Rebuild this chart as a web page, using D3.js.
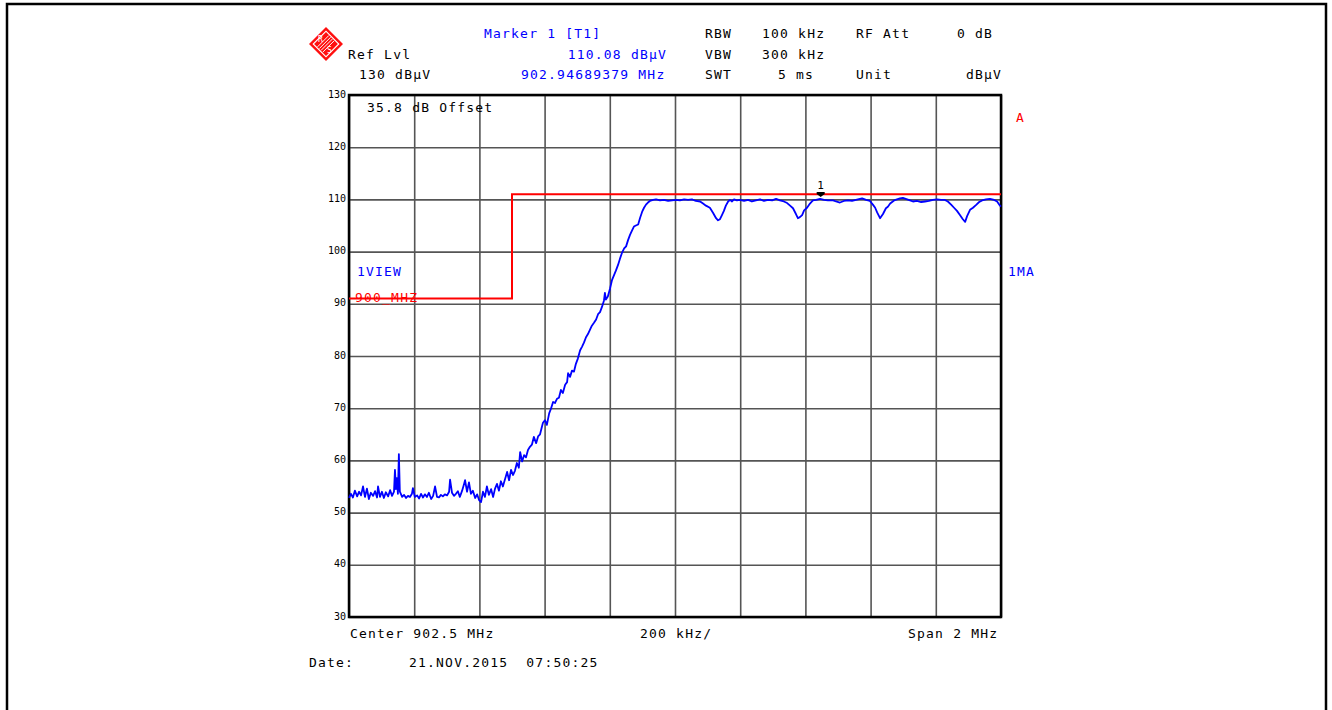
<!DOCTYPE html>
<html>
<head>
<meta charset="utf-8">
<script src="https://cdn.jsdelivr.net/npm/d3@7"></script>
<style>
  html, body { margin: 0; padding: 0; background: #fff; }
  svg { display: block; }
  text { font-family: "DejaVu Sans Mono", monospace; }
</style>
</head>
<body>
<svg id="chart" width="1332" height="710"></svg>
<script>
// ---------- data ----------
const startMHz = 901.5;
const stopMHz = 903.5;
const levelTicks = [30, 40, 50, 60, 70, 80, 90, 100, 110, 120, 130];
const freqGridMHz = [901.5, 901.7, 901.9, 902.1, 902.3, 902.5, 902.7, 902.9, 903.1, 903.3, 903.5];

// trace 1 (clear/write, max) : offset from start frequency in kHz, level in dBµV
const traceOffsetKHz = [
  0, 6, 12, 18, 25, 31, 37, 43, 49, 55, 61, 67, 74, 80, 86, 89, 95, 101, 107, 113,
  120, 126, 132, 138, 141, 144, 147, 150, 153, 156, 163, 169, 175, 181, 187, 193, 196, 202, 209, 215,
  221, 227, 233, 239, 245, 252, 258, 264, 270, 276, 282, 288, 294, 301, 307, 310, 316, 322, 328, 334,
  340, 347, 353, 356, 362, 368, 374, 380, 387, 393, 399, 405, 411, 417, 423, 429, 436, 442, 448, 454,
  460, 466, 472, 479, 485, 491, 497, 503, 509, 515, 521, 525, 531, 537, 543, 549, 555, 561, 567, 574,
  580, 586, 592, 595, 601, 607, 614, 620, 626, 632, 638, 644, 650, 656, 663, 669, 672, 678, 684, 690,
  696, 702, 709, 715, 721, 727, 733, 739, 745, 752, 758, 764, 770, 776, 782, 785, 788, 794, 801, 807,
  813, 819, 825, 831, 837, 844, 850, 856, 862, 868, 874, 880, 887, 893, 899, 905, 911, 917, 923, 933,
  942, 954, 966, 979, 991, 1003, 1015, 1028, 1040, 1052, 1064, 1077, 1086, 1095, 1107, 1117, 1126, 1132, 1138, 1144,
  1150, 1156, 1163, 1169, 1175, 1181, 1190, 1199, 1212, 1224, 1236, 1248, 1261, 1273, 1285, 1298, 1310, 1322, 1334, 1344,
  1353, 1362, 1371, 1377, 1383, 1390, 1396, 1405, 1414, 1423, 1433, 1445, 1457, 1469, 1485, 1494, 1506, 1518, 1531, 1543,
  1555, 1574, 1586, 1598, 1607, 1614, 1620, 1629, 1638, 1647, 1653, 1660, 1672, 1681, 1690, 1699, 1712, 1721, 1730, 1742,
  1755, 1767, 1779, 1791, 1804, 1816, 1828, 1837, 1847, 1856, 1865, 1874, 1883, 1890, 1896, 1905, 1914, 1923, 1933, 1942,
  1954, 1966, 1979, 1988, 1997, 2000
];
const traceLevel = [
  52.8, 53.6, 52.9, 54.2, 53.1, 54.0, 53.3, 55.0, 53.0, 54.6, 52.6, 53.8, 53.2, 54.1, 52.9, 55.0, 53.0, 54.0, 52.8, 53.9,
  53.1, 54.3, 53.2, 54.0, 58.2, 54.5, 56.6, 53.6, 61.2, 54.0, 53.0, 53.4, 52.8, 53.2, 53.0, 53.6, 54.7, 53.0, 53.3, 52.7,
  53.6, 52.9, 53.5, 53.0, 53.8, 52.6, 53.2, 55.0, 53.0, 52.9, 53.4, 53.1, 53.5, 53.3, 54.0, 56.3, 53.8, 53.2, 53.6, 54.1,
  53.0, 54.2, 55.5, 56.2, 54.0, 55.8, 53.6, 54.2, 52.8, 53.5, 52.4, 52.0, 54.0, 53.0, 55.0, 53.4, 54.5, 53.0, 54.6, 55.5,
  54.2, 56.0, 55.0, 56.5, 57.8, 56.2, 58.2, 57.2, 58.0, 59.5, 58.6, 61.6, 59.8, 61.0, 60.6, 62.0, 62.6, 63.0, 64.5, 63.3,
  64.6, 65.0, 66.5, 67.2, 67.7, 66.8, 69.0, 70.0, 71.2, 71.0, 71.8, 72.0, 73.5, 72.9, 74.5, 75.0, 76.7, 76.0, 77.2, 77.0,
  78.5, 79.5, 81.1, 81.8, 82.6, 83.6, 84.2, 85.0, 85.8, 86.4, 87.0, 88.0, 88.4, 89.4, 90.6, 92.1, 90.8, 91.4, 93.0, 94.6,
  95.5, 96.4, 97.4, 98.6, 99.7, 100.6, 101.0, 102.2, 103.2, 104.0, 104.8, 105.0, 105.2, 106.5, 107.6, 108.4, 109.0, 109.4, 109.7, 109.9,
  110.0, 109.8, 109.9, 109.7, 109.8, 109.9, 109.8, 110.0, 109.9, 110.0, 109.7, 109.6, 109.2, 108.8, 108.4, 107.4, 106.4, 106.0, 106.2, 107.0,
  107.8, 108.8, 109.6, 109.9, 109.6, 110.0, 109.8, 109.9, 109.7, 109.9, 109.6, 109.8, 110.0, 109.7, 109.9, 109.8, 110.1, 109.8, 109.6, 109.3,
  108.8, 108.3, 107.2, 106.4, 106.6, 107.0, 107.9, 108.4, 109.2, 109.8, 109.9, 110.1, 109.9, 109.8, 109.8, 109.6, 109.4, 109.7, 109.8, 109.7,
  109.9, 110.2, 109.9, 109.7, 109.0, 108.4, 107.5, 106.4, 107.2, 108.3, 108.6, 109.2, 109.8, 110.0, 110.2, 110.3, 110.0, 109.8, 109.6, 109.7,
  109.5, 109.6, 109.7, 109.9, 110.0, 109.9, 109.9, 109.6, 109.0, 108.4, 107.8, 107.0, 106.2, 105.7, 106.8, 108.0, 108.4, 108.9, 109.5, 109.8,
  110.0, 110.1, 109.9, 109.6, 108.8, 108.6
];

// limit line "900_MHZ"
const limitFreqMHz = [901.5, 902.0, 902.0, 903.5];
const limitLevel = [91, 91, 111, 111];

// marker 1
const markerFreqMHz = 902.94689379;
const markerLevel = 110.08;

// ---------- drawing ----------
const svg = d3.select("#chart");
const plot = { left: 349, right: 1001, top: 95, bottom: 617 };

const x = d3.scaleLinear().domain([startMHz, stopMHz]).range([plot.left, plot.right]);
const y = d3.scaleLinear().domain([30, 130]).range([plot.bottom, plot.top]);

// outer frame
svg.append("path")
  .attr("d", "M7,712 L7,4 L1326,4 L1326,712")
  .attr("fill", "none").attr("stroke", "#000").attr("stroke-width", 2.5);

// gridlines (vertical)
svg.append("g")
  .attr("transform", `translate(0,${plot.bottom})`)
  .call(d3.axisBottom(x).tickValues(freqGridMHz).tickSize(-(plot.bottom - plot.top)).tickFormat(""))
  .call(g => g.select(".domain").remove())
  .call(g => g.selectAll("line").attr("stroke", "#555").attr("stroke-width", 1.6));

// gridlines (horizontal) + level labels
const yAxis = svg.append("g")
  .attr("transform", `translate(${plot.left},0)`)
  .call(d3.axisLeft(y).tickValues(levelTicks).tickSize(-(plot.right - plot.left)).tickPadding(3).tickFormat(d3.format("d")))
  .call(g => g.select(".domain").remove())
  .call(g => g.selectAll("line").attr("stroke", "#555").attr("stroke-width", 1.6));
yAxis.selectAll("text")
  .attr("dy", null).attr("y", 2)
  .style("font-family", "'DejaVu Sans Mono', monospace")
  .style("font-size", "10px").attr("fill", "#000");

// plot border
svg.append("rect")
  .attr("x", plot.left).attr("y", plot.top)
  .attr("width", plot.right - plot.left).attr("height", plot.bottom - plot.top)
  .attr("fill", "none").attr("stroke", "#000").attr("stroke-width", 2.5);

// limit line
const limitData = limitFreqMHz.map((f, i) => ({ f, v: limitLevel[i] }));
svg.append("path")
  .datum(limitData)
  .attr("fill", "none").attr("stroke", "#ff0000").attr("stroke-width", 2)
  .attr("d", d3.line().x(d => x(d.f)).y(d => y(d.v)));

// trace
const traceData = traceOffsetKHz.map((k, i) => ({ f: startMHz + k / 1000, v: traceLevel[i] }));
svg.append("path")
  .datum(traceData)
  .attr("fill", "none").attr("stroke", "#0000ff").attr("stroke-width", 1.8)
  .attr("stroke-linejoin", "round")
  .attr("d", d3.line().x(d => x(d.f)).y(d => y(d.v)));

// marker
const mx = x(markerFreqMHz), my = y(markerLevel);
svg.append("path")
  .attr("d", `M${mx - 4},${my - 7} L${mx + 4},${my - 7} L${mx + 4},${my - 5} L${mx},${my - 2} L${mx - 4},${my - 5} Z`)
  .attr("fill", "#000");
svg.append("text").attr("x", mx).attr("y", my - 10).attr("text-anchor", "middle")
  .style("font-size", "11px").attr("fill", "#000").text("1");

// logo (R&S style diamond)
const logo = svg.append("g").attr("transform", "translate(326,44) rotate(45)");
logo.append("rect").attr("x", -12).attr("y", -12).attr("width", 24).attr("height", 24).attr("fill", "#ff1010");
logo.append("rect").attr("x", -9).attr("y", -9).attr("width", 18).attr("height", 18)
  .attr("fill", "none").attr("stroke", "#fff").attr("stroke-width", 1.2);
[-4, -1.5, 1, 3.5].forEach(o => {
  logo.append("line").attr("x1", o).attr("y1", -8).attr("x2", o).attr("y2", 8)
    .attr("stroke", "#fff").attr("stroke-width", 0.9);
});
svg.append("text").attr("x", 318).attr("y", 42).attr("fill", "#fff").style("font-size", "8px").text("R");
svg.append("text").attr("x", 327).attr("y", 53).attr("fill", "#fff").style("font-size", "8px").text("S");

// text labels
const labels = [
  { t: "Marker 1 [T1]", x: 484, y: 38, c: "#0000ff" },
  { t: "110.08 dBµV", x: 667, y: 59, c: "#0000ff", a: "end" },
  { t: "902.94689379 MHz", x: 521, y: 79, c: "#0000ff" },
  { t: "Ref Lvl", x: 348, y: 59, c: "#000" },
  { t: "130 dBµV", x: 359, y: 79, c: "#000" },
  { t: "RBW", x: 705, y: 38, c: "#000" },
  { t: "100 kHz", x: 762, y: 38, c: "#000" },
  { t: "RF Att", x: 856, y: 38, c: "#000" },
  { t: "0 dB", x: 957, y: 38, c: "#000" },
  { t: "VBW", x: 705, y: 59, c: "#000" },
  { t: "300 kHz", x: 762, y: 59, c: "#000" },
  { t: "SWT", x: 705, y: 79, c: "#000" },
  { t: "5 ms", x: 778, y: 79, c: "#000" },
  { t: "Unit", x: 856, y: 79, c: "#000" },
  { t: "dBµV", x: 966, y: 79, c: "#000" },
  { t: "35.8 dB Offset", x: 367, y: 112, c: "#000" },
  { t: "A", x: 1016, y: 122, c: "#ff0000" },
  { t: "1VIEW", x: 357, y: 276, c: "#0000ff" },
  { t: "900_MHZ", x: 355, y: 302, c: "#ff0000" },
  { t: "1MA", x: 1008, y: 276, c: "#0000ff" },
  { t: "Center 902.5 MHz", x: 350, y: 638, c: "#000" },
  { t: "200 kHz/", x: 640, y: 638, c: "#000" },
  { t: "Span 2 MHz", x: 908, y: 638, c: "#000" },
  { t: "Date:", x: 309, y: 667, c: "#000" },
  { t: "21.NOV.2015  07:50:25", x: 409, y: 667, c: "#000" }
];
svg.append("g").selectAll("text").data(labels).join("text")
  .attr("x", d => d.x).attr("y", d => d.y)
  .attr("text-anchor", d => d.a || "start")
  .attr("fill", d => d.c)
  .style("font-size", "13px")
  .style("letter-spacing", "1.2px")
  .attr("xml:space", "preserve")
  .style("white-space", "pre")
  .text(d => d.t);
</script>
</body>
</html>
